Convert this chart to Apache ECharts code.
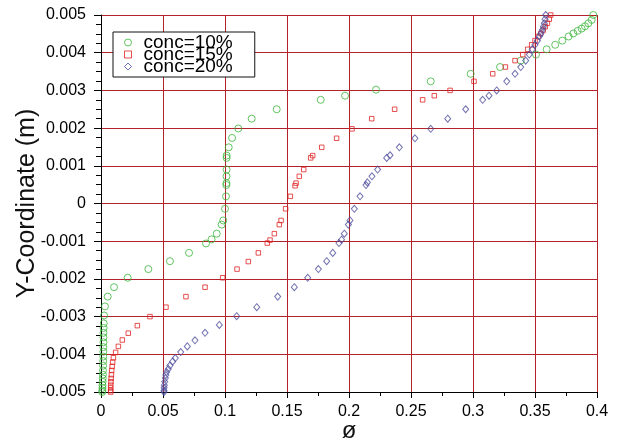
<!DOCTYPE html>
<html>
<head>
<meta charset="utf-8">
<script src="https://cdn.jsdelivr.net/npm/echarts@6/dist/echarts.min.js"></script>
<style>
  html, body { margin: 0; padding: 0; background: #fff; }
  #chart { width: 618px; height: 447px; }
</style>
</head>
<body>
<div id="chart"></div>
<script>
// Volume fraction profiles across the channel height, one series per concentration.
const seriesNames = ['conc=10%', 'conc=15%', 'conc=20%'];

// [phi, y (m)]
const conc10 = [
  [0.0010,-0.00500],[0.0011,-0.00496],[0.0012,-0.00489],[0.0012,-0.00482],[0.0013,-0.00473],
  [0.0014,-0.00464],[0.0015,-0.00454],[0.0016,-0.00443],[0.0017,-0.00430],[0.0018,-0.00418],
  [0.0018,-0.00406],[0.0019,-0.00393],[0.0019,-0.00381],[0.0020,-0.00368],[0.0020,-0.00355],
  [0.0020,-0.00343],[0.0021,-0.00330],[0.0022,-0.00318],[0.0025,-0.00297],[0.0032,-0.00273],
  [0.0054,-0.00247],[0.0105,-0.00222],[0.0215,-0.00197],[0.0382,-0.00174],[0.0556,-0.00153],
  [0.0710,-0.00131],[0.0847,-0.00106],[0.0892,-0.00095],[0.0933,-0.00080],[0.0973,-0.00056],
  [0.0986,-0.00045],[0.1000,-0.00014],[0.1008,0.00019],[0.1011,0.00049],[0.1012,0.00054],
  [0.1012,0.00072],[0.1013,0.00090],[0.1013,0.00121],[0.1013,0.00127],[0.1030,0.00149],
  [0.1057,0.00174],[0.1107,0.00199],[0.1215,0.00225],[0.1417,0.00250],[0.1772,0.00275],
  [0.1968,0.00286],[0.2218,0.00302],[0.2659,0.00324],[0.2981,0.00344],[0.3218,0.00362],
  [0.3385,0.00379],[0.3508,0.00395],[0.3594,0.00409],[0.3663,0.00421],[0.3720,0.00432],
  [0.3771,0.00443],[0.3809,0.00451],[0.3844,0.00458],[0.3876,0.00464],[0.3903,0.00470],
  [0.3930,0.00478],[0.3957,0.00487],[0.3970,0.00500]
];

const conc15 = [
  [0.0078,-0.00500],[0.0078,-0.00496],[0.0078,-0.00489],[0.0079,-0.00482],[0.0080,-0.00473],
  [0.0082,-0.00464],[0.0084,-0.00454],[0.0086,-0.00443],[0.0090,-0.00432],[0.0094,-0.00421],
  [0.0100,-0.00409],[0.0118,-0.00395],[0.0140,-0.00379],[0.0172,-0.00362],[0.0220,-0.00344],
  [0.0293,-0.00324],[0.0395,-0.00300],[0.0524,-0.00275],[0.0685,-0.00247],[0.0839,-0.00222],
  [0.0981,-0.00197],[0.1097,-0.00174],[0.1188,-0.00154],[0.1269,-0.00131],[0.1341,-0.00105],
  [0.1363,-0.00097],[0.1398,-0.00080],[0.1438,-0.00056],[0.1452,-0.00045],[0.1489,-0.00014],
  [0.1527,0.00019],[0.1565,0.00047],[0.1573,0.00054],[0.1599,0.00072],[0.1635,0.00090],
  [0.1691,0.00121],[0.1707,0.00127],[0.1780,0.00149],[0.1900,0.00173],[0.2024,0.00198],
  [0.2183,0.00225],[0.2368,0.00250],[0.2594,0.00275],[0.2688,0.00286],[0.2815,0.00300],
  [0.3008,0.00324],[0.3159,0.00344],[0.3261,0.00362],[0.3339,0.00379],[0.3401,0.00395],
  [0.3441,0.00409],[0.3473,0.00421],[0.3500,0.00432],[0.3527,0.00443],[0.3546,0.00451],
  [0.3567,0.00460],[0.3583,0.00469],[0.3600,0.00478],[0.3615,0.00489],[0.3627,0.00500]
];

const conc20 = [
  [0.0508,-0.00500],[0.0508,-0.00496],[0.0509,-0.00489],[0.0511,-0.00482],[0.0514,-0.00473],
  [0.0519,-0.00463],[0.0523,-0.00455],[0.0529,-0.00447],[0.0543,-0.00439],[0.0556,-0.00430],
  [0.0578,-0.00419],[0.0599,-0.00410],[0.0643,-0.00394],[0.0696,-0.00379],[0.0758,-0.00363],
  [0.0839,-0.00343],[0.0954,-0.00322],[0.1094,-0.00299],[0.1256,-0.00275],[0.1425,-0.00247],
  [0.1559,-0.00222],[0.1667,-0.00197],[0.1753,-0.00174],[0.1820,-0.00153],[0.1869,-0.00131],
  [0.1919,-0.00105],[0.1940,-0.00096],[0.1962,-0.00080],[0.1995,-0.00056],[0.2008,-0.00045],
  [0.2043,-0.00014],[0.2089,0.00019],[0.2137,0.00049],[0.2148,0.00056],[0.2185,0.00072],
  [0.2231,0.00090],[0.2304,0.00121],[0.2331,0.00128],[0.2406,0.00149],[0.2532,0.00173],
  [0.2659,0.00198],[0.2796,0.00225],[0.2941,0.00250],[0.3078,0.00275],[0.3129,0.00286],
  [0.3191,0.00300],[0.3272,0.00324],[0.3339,0.00344],[0.3385,0.00362],[0.3425,0.00379],
  [0.3454,0.00395],[0.3478,0.00409],[0.3500,0.00421],[0.3519,0.00432],[0.3535,0.00443],
  [0.3548,0.00451],[0.3559,0.00460],[0.3567,0.00469],[0.3575,0.00478],[0.3581,0.00489],
  [0.3586,0.00500]
];

const seriesData = [conc10, conc15, conc20];
const seriesColors = ['#3cb53c', '#e02424', '#4e4e9c'];
const seriesSymbols = ['circle', 'rect', 'diamond'];
const symbolSizes = [7, 4.5, [6, 7]];

const gridRed = '#b3212b';
const font = 'Arial, "Liberation Sans", sans-serif';

const chart = echarts.init(document.getElementById('chart'), null, { renderer: 'canvas' });

chart.setOption({
  animation: false,
  backgroundColor: '#ffffff',
  grid: { left: 101, right: 21, top: 15, bottom: 55, containLabel: false, outerBoundsMode: 'none' },
  legend: {
    orient: 'vertical',
    left: 113,
    top: 32,
    padding: [1, 22, 1, 11],
    itemGap: -7,
    itemWidth: 7,
    itemHeight: 7,
    backgroundColor: '#ffffff',
    borderColor: '#111111',
    borderWidth: 1,
    textStyle: {
      fontFamily: font,
      fontSize: 19,
      color: '#000',
      padding: [0, 0, 0, 7]
    },
    data: seriesNames.map((n, i) => ({
      name: n,
      icon: seriesSymbols[i],
      itemStyle: { color: 'transparent', borderColor: seriesColors[i], borderWidth: 1 }
    }))
  },
  xAxis: {
    type: 'value',
    min: 0,
    max: 0.4,
    interval: 0.05,
    name: 'ø',
    nameLocation: 'middle',
    nameMoveOverlap: false,
    nameGap: 27,
    nameTextStyle: { fontFamily: font, fontSize: 24, color: '#111' },
    axisLine: { show: true, onZero: false, lineStyle: { color: '#000', width: 1 } },
    axisTick: { show: true, inside: false, length: 6, lineStyle: { color: '#000' } },
    minorTick: { show: true, splitNumber: 2, length: 4, lineStyle: { color: '#000' } },
    axisLabel: {
      margin: 12,
      fontFamily: font,
      fontSize: 16,
      color: '#000',
      formatter: v => String(parseFloat(v.toFixed(2)))
    },
    splitLine: { show: true, lineStyle: { color: gridRed, width: 1 } }
  },
  yAxis: {
    type: 'value',
    min: -0.005,
    max: 0.005,
    interval: 0.001,
    name: 'Y-Coordinate (m)',
    nameLocation: 'middle',
    nameRotate: 90,
    nameMoveOverlap: false,
    nameGap: 61,
    nameTextStyle: { fontFamily: font, fontSize: 25, color: '#111' },
    axisLine: { show: true, onZero: false, lineStyle: { color: '#000', width: 1 } },
    axisTick: { show: true, inside: false, length: 7, lineStyle: { color: '#000' } },
    minorTick: { show: true, splitNumber: 4, length: 5, lineStyle: { color: '#000' } },
    axisLabel: {
      margin: 15,
      fontFamily: font,
      fontSize: 16,
      color: '#000',
      formatter: v => String(parseFloat(v.toFixed(3)))
    },
    splitLine: { show: true, lineStyle: { color: gridRed, width: 1 } }
  },
  series: seriesNames.map((n, i) => ({
    name: n,
    type: 'scatter',
    data: seriesData[i],
    symbol: seriesSymbols[i],
    symbolSize: symbolSizes[i],
    itemStyle: { color: 'transparent', borderColor: seriesColors[i], borderWidth: 1 },
    emphasis: { disabled: true }
  }))
});
</script>
</body>
</html>
